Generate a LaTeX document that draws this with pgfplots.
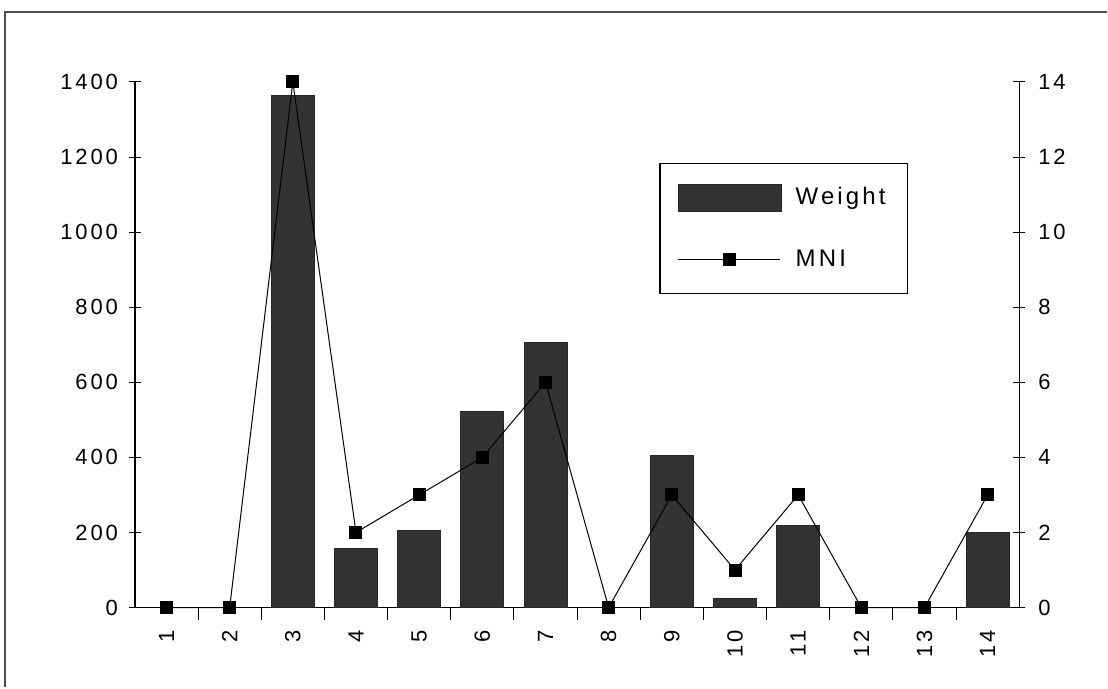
\documentclass[border=0pt]{standalone}
\usepackage{fontspec}
\setmainfont{Liberation Sans}[LetterSpace=13]
\usepackage{pgfplots}
\pgfplotsset{compat=1.18}
\pgfplotsset{
  common/.style={
    scale only axis, width=442.5pt, height=263pt,
    xmin=0.5, xmax=14.5,
    tick align=center, major tick length=6pt, minor tick length=6pt,
    tick style={black, line width=0.5pt},
    axis line style={black, line width=0.6pt, -},
    /pgf/number format/assume math mode=true,
    /pgf/number format/1000 sep={},
    tick label style={font=\fontsize{11}{13}\selectfont},
  }
}
\begin{document}
\begin{tikzpicture}
\begin{axis}[common, name=ax,
  axis x line*=bottom, axis y line*=left,
  ymin=0, ymax=1400, ytick={0,200,...,1400},
  xtick={1,...,14}, minor x tick num=1,
  major x tick style={draw=none},
  x tick label style={rotate=90, anchor=east, xshift=-2pt},
  y tick label style={xshift=-2pt},
  ybar, bar width=21.5pt,
]
\addplot[fill=black!80, draw=black!85, line width=0.4pt] coordinates {
 (3,1363) (4,157) (5,205) (6,522) (7,705) (9,405) (10,24) (11,218) (14,200)
};
\end{axis}
\begin{axis}[common,
  axis y line*=right, axis x line=none,
  ymin=0, ymax=14, ytick={0,2,...,14},
  y tick label style={xshift=3pt},
  clip=false,
  legend style={at={(0.593,0.846)}, anchor=north west, draw=black, line width=0.6pt,
    inner xsep=9pt, inner ysep=10pt, row sep=17pt, column sep=5pt,
    font=\fontsize{12}{14}\selectfont, cells={anchor=west}},
]
\addlegendimage{legend image code/.code={\draw[fill=black!80, draw=black!85, line width=0.4pt] (0pt,-6.75pt) rectangle (51.5pt,6.75pt);}}
\addlegendentry{Weight}
\addplot[black, line width=0.5pt, mark=square*, mark size=3pt, mark options={solid, fill=black},
  legend image code/.code={\draw[black, line width=0.5pt] (0pt,0pt) -- (51pt,0pt); \fill[black] (22.5pt,-3pt) rectangle (28.5pt,3pt);}]
 coordinates {
 (1,0) (2,0) (3,14) (4,2) (5,3) (6,4) (7,6) (8,0) (9,3) (10,1) (11,3) (12,0) (13,0) (14,3)
};
\addlegendentry{MNI}
\end{axis}
\draw[black!70, line width=0.8pt] ([shift={(-65pt,-40pt)}]ax.south west) -- ([shift={(-65pt,298pt)}]ax.south west) -- ([shift={(486.5pt,298pt)}]ax.south west);
\path ([shift={(-67.5pt,-40pt)}]ax.south west) rectangle ([shift={(486.5pt,304pt)}]ax.south west);
\end{tikzpicture}
\end{document}
